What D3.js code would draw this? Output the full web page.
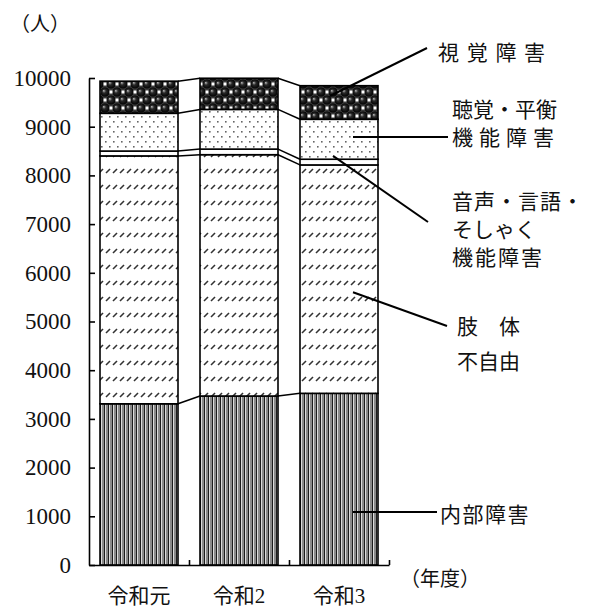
<!DOCTYPE html>
<html>
<head>
<meta charset="utf-8">
<script src="https://cdn.jsdelivr.net/npm/d3@7"></script>
<style>
  body { margin: 0; background: #fff; }
  text { fill: #111; }
</style>
</head>
<body>
<script>
// data
const years = ["令和元", "令和2", "令和3"];
const keys = ["naibu", "shitai", "onsei", "choukaku", "shikaku"];
const naibu    = [3310, 3470, 3525];   // 内部障害
const shitai   = [5090, 4955, 4690];   // 肢体不自由
const onsei    = [100, 115, 117];      // 音声・言語・そしゃく機能障害
const choukaku = [775, 815, 820];      // 聴覚・平衡機能障害
const shikaku  = [660, 640, 690];      // 視覚障害
const yTicks = [0, 1000, 2000, 3000, 4000, 5000, 6000, 7000, 8000, 9000, 10000];

const width = 592, height = 610;
const margin = {top: 78, left: 89, bottom: 45, right: 203};
const plotW = width - margin.left - margin.right,
      plotH = height - margin.top - margin.bottom;

const serif = "'Liberation Serif', 'Noto Sans CJK JP', serif";
const sans = "'Noto Sans CJK JP', sans-serif";

var table = years.map(function(y, i) {
  return {year: y, naibu: naibu[i], shitai: shitai[i], onsei: onsei[i],
          choukaku: choukaku[i], shikaku: shikaku[i]};
});
var stacked = d3.stack().keys(keys)(table);

var x = d3.scaleBand()
    .domain(years)
    .range([margin.left, margin.left + plotW])
    .paddingInner(0.22)
    .paddingOuter(0.11);
var y = d3.scaleLinear()
    .domain([0, 10000])
    .range([margin.top + plotH, margin.top]);

var svg = d3.select("body").append("svg")
    .attr("width", width)
    .attr("height", height);

// fill patterns
var defs = svg.append("defs");

var pv = defs.append("pattern").attr("id", "p-naibu")
    .attr("patternUnits", "userSpaceOnUse").attr("width", 4).attr("height", 4);
pv.append("rect").attr("width", 4).attr("height", 4).attr("fill", "#8a8a8a");
pv.append("rect").attr("x", 0).attr("width", 1).attr("height", 4).attr("fill", "#1c1c1c");
pv.append("rect").attr("x", 1).attr("width", 1).attr("height", 4).attr("fill", "#dcdcdc");

var pd = defs.append("pattern").attr("id", "p-shitai")
    .attr("patternUnits", "userSpaceOnUse").attr("width", 7).attr("height", 16);
pd.append("rect").attr("width", 7).attr("height", 16).attr("fill", "#fff");
pd.append("line").attr("x1", 1).attr("y1", 13).attr("x2", 5).attr("y2", 9)
    .attr("stroke", "#333").attr("stroke-width", 1.6);

var po = defs.append("pattern").attr("id", "p-onsei")
    .attr("patternUnits", "userSpaceOnUse").attr("width", 8).attr("height", 8);
po.append("rect").attr("width", 8).attr("height", 8).attr("fill", "#fff");

var pc = defs.append("pattern").attr("id", "p-choukaku")
    .attr("patternUnits", "userSpaceOnUse").attr("width", 8).attr("height", 10);
pc.append("rect").attr("width", 8).attr("height", 10).attr("fill", "#fff");
pc.append("rect").attr("x", 1).attr("y", 1).attr("width", 1.6).attr("height", 1.6).attr("fill", "#666");
pc.append("rect").attr("x", 5).attr("y", 6).attr("width", 1.6).attr("height", 1.6).attr("fill", "#666");

var grad = defs.append("radialGradient").attr("id", "g-sphere")
    .attr("cx", "50%").attr("cy", "50%").attr("r", "50%")
    .attr("fx", "35%").attr("fy", "35%");
grad.append("stop").attr("offset", "0%").attr("stop-color", "#bdbdbd");
grad.append("stop").attr("offset", "40%").attr("stop-color", "#2a2a2a");
grad.append("stop").attr("offset", "100%").attr("stop-color", "#000");

var ps = defs.append("pattern").attr("id", "p-shikaku")
    .attr("patternUnits", "userSpaceOnUse").attr("width", 12).attr("height", 16);
ps.append("rect").attr("width", 12).attr("height", 16).attr("fill", "#3a3a3a");
[[3, 4], [15, 4], [9, 12], [-3, 12], [3, 20], [15, 20], [9, -4], [-3, -4]].forEach(function(c) {
  ps.append("circle").attr("cx", c[0]).attr("cy", c[1]).attr("r", 4.6)
    .attr("fill", "url(#g-sphere)");
});
[[9, 4], [3, 12]].forEach(function(c) {
  ps.append("rect").attr("x", c[0] - 1.5).attr("y", c[1] - 1.5)
    .attr("width", 3).attr("height", 3).attr("fill", "#fff");
});

// series lines between bars
var bw = x.bandwidth();
stacked.forEach(function(layer) {
  for (var i = 0; i < years.length - 1; i++) {
    svg.append("line")
      .attr("x1", x(years[i]) + bw).attr("y1", y(layer[i][1]))
      .attr("x2", x(years[i + 1])).attr("y2", y(layer[i + 1][1]))
      .attr("stroke", "#000").attr("stroke-width", 1.5);
  }
});

// bars
svg.append("g").selectAll("g")
  .data(stacked)
  .enter().append("g")
    .attr("fill", function(d) { return "url(#p-" + d.key + ")"; })
  .selectAll("rect")
  .data(function(d) { return d; })
  .enter().append("rect")
    .attr("x", function(d) { return x(d.data.year); })
    .attr("y", function(d) { return y(d[1]); })
    .attr("width", bw)
    .attr("height", function(d) { return y(d[0]) - y(d[1]); })
    .attr("stroke", "#000")
    .attr("stroke-width", 1.6);

// y axis
var yAxis = svg.append("g")
    .attr("transform", "translate(" + margin.left + ",0)")
    .call(d3.axisLeft(y).tickValues(yTicks).tickFormat(d3.format("d"))
      .tickSize(-6).tickSizeOuter(0).tickPadding(18));
yAxis.selectAll("text").style("font-family", serif).style("font-size", "23px").attr("fill", "#111");
yAxis.selectAll("line").attr("stroke", "#000").attr("stroke-width", 1.6);
yAxis.select(".domain").attr("stroke", "#000").attr("stroke-width", 1.6);

// x axis with ticks between categories
var xb = d3.scaleLinear().domain([0, years.length]).range([margin.left, margin.left + plotW]);
var xAxis = svg.append("g")
    .attr("transform", "translate(0," + (margin.top + plotH) + ")")
    .call(d3.axisBottom(xb).tickValues([1, 2, 3]).tickSize(-5).tickSizeOuter(0).tickFormat(""));
xAxis.selectAll("line").attr("stroke", "#000").attr("stroke-width", 1.6);
xAxis.select(".domain").attr("stroke", "#000").attr("stroke-width", 1.6);

svg.append("g").selectAll("text")
  .data(years)
  .enter().append("text")
    .attr("x", function(d) { return x(d) + bw / 2; })
    .attr("y", 603)
    .attr("text-anchor", "middle")
    .style("font-family", serif)
    .style("font-size", "21px")
    .text(function(d) { return d; });

svg.append("text").attr("x", 40).attr("y", 24)
  .attr("text-anchor", "middle").attr("dominant-baseline", "central")
  .style("font-family", serif).style("font-size", "20px").text("（人）");
svg.append("text").attr("x", 440).attr("y", 579)
  .attr("text-anchor", "middle").attr("dominant-baseline", "central")
  .style("font-family", serif).style("font-size", "20px").text("（年度）");

// callout labels pointing at the 令和3 bar
var last = years[years.length - 1];
var callouts = [
  {dx: 30, v: 9630, tx: 427, ty: 48,  lx: 438, lines: [["視 覚 障 害", 51, 1.5]]},
  {dx: 53, v: 8790, tx: 448, ty: 137, lx: 452, lines: [["聴覚・平衡", 108, 0], ["機能障害", 136, 6]]},
  {dx: 33, v: 8400, tx: 428, ty: 222, lx: 452, lines: [["音声・言語・", 200, 1], ["そしゃく", 228, 0], ["機能障害", 256, 2]]},
  {dx: 53, v: 5600, tx: 447, ty: 326, lx: 457, lines: [["肢　体", 325, 0], ["不自由", 360, 0]]},
  {dx: 53, v: 1090, tx: 437, ty: 512, lx: 440, lines: [["内部障害", 513, 1.5]]}
];
callouts.forEach(function(c) {
  svg.append("line")
    .attr("x1", x(last) + c.dx).attr("y1", y(c.v))
    .attr("x2", c.tx).attr("y2", c.ty)
    .attr("stroke", "#000").attr("stroke-width", 2);
  c.lines.forEach(function(l) {
    svg.append("text")
      .attr("x", c.lx).attr("y", l[1])
      .attr("dominant-baseline", "central")
      .attr("letter-spacing", l[2])
      .style("font-family", sans)
      .style("font-size", "21px")
      .text(l[0]);
  });
});
</script>
</body>
</html>
